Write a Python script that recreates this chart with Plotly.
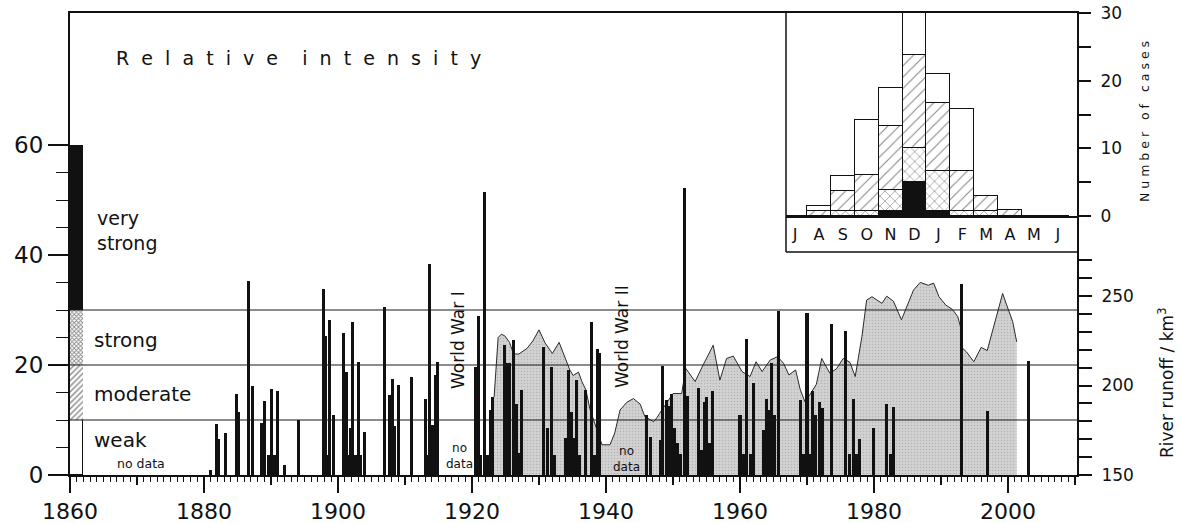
import plotly.graph_objects as go

W, H = 1181, 523

# ---------------- storm surge events: date (fractional year) and relative intensity
event_year = [
    1881.0, 1881.8, 1882.2, 1883.2, 1884.8, 1885.2, 1886.7, 1887.2, 1888.6, 1889.1,
    1889.6, 1890.1, 1890.5, 1890.9, 1892.0, 1894.1, 1897.8, 1898.2, 1898.5, 1898.8,
    1899.3, 1900.8, 1901.2, 1901.5, 1901.8, 1902.2, 1902.6, 1903.0, 1903.4, 1903.9,
    1907.0, 1907.7, 1908.1, 1908.5, 1909.0, 1911.0, 1913.0, 1913.4, 1913.7, 1914.1,
    1914.5, 1914.9, 1920.5, 1920.9, 1921.3, 1921.8, 1922.3, 1922.8, 1923.1, 1924.8,
    1925.2, 1925.6, 1926.2, 1926.6, 1927.0, 1927.4, 1930.7, 1931.2, 1931.9, 1932.3,
    1933.9, 1934.4, 1934.8, 1935.2, 1935.6, 1936.0, 1936.9, 1937.9, 1938.3, 1938.7,
    1939.1, 1946.1, 1946.6, 1948.1, 1948.5, 1949.0, 1949.4, 1949.8, 1950.2, 1950.6,
    1951.1, 1951.7, 1952.1, 1953.8, 1954.2, 1954.7, 1955.0, 1955.4, 1955.9, 1960.0,
    1960.5, 1961.0, 1961.5, 1962.0, 1963.5, 1963.9, 1964.3, 1964.7, 1965.1, 1965.7,
    1969.0, 1969.5, 1970.0, 1970.4, 1970.8, 1971.3, 1971.9, 1972.3, 1973.7, 1975.8,
    1976.3, 1976.9, 1977.4, 1977.9, 1979.9, 1981.9, 1982.4, 1982.9, 1993.0, 1997.0,
    2003.1,
]
event_intensity = [
    1.0, 9.2, 6.5, 7.7, 14.8, 11.5, 35.2, 16.1, 9.4, 13.5,
    3.6, 15.6, 3.6, 15.3, 1.8, 10.0, 33.8, 25.2, 3.6, 28.2,
    10.9, 25.8, 18.8, 3.6, 8.5, 27.9, 3.6, 20.6, 3.6, 7.8,
    30.5, 14.5, 17.5, 8.9, 16.4, 17.8, 13.8, 3.6, 38.3, 9.1,
    18.2, 20.5, 19.7, 28.9, 3.6, 51.5, 3.6, 11.8, 14.2, 23.6,
    20.4, 20.4, 24.5, 13.0, 4.0, 15.5, 23.2, 8.5, 19.6, 3.6,
    6.7, 19.1, 11.5, 6.7, 17.3, 3.6, 15.5, 27.9, 3.6, 23.0,
    22.1, 11.0, 7.0, 6.4, 19.9, 13.6, 12.5, 14.8, 8.5, 5.8,
    3.8, 52.1, 14.4, 15.8, 4.5, 13.2, 14.2, 5.8, 15.2, 11.0,
    3.9, 24.7, 3.9, 16.8, 8.1, 13.9, 11.8, 20.3, 10.9, 29.8,
    13.6, 3.9, 29.5, 3.9, 15.3, 10.9, 13.3, 12.2, 27.5, 26.1,
    3.9, 13.8, 3.9, 6.5, 8.5, 13.0, 3.9, 12.4, 34.7, 11.6,
    20.8,
]

# ---------------- river runoff (km^3)
runoff_year = [
    1923.3, 1923.9, 1924.4, 1924.9, 1925.6, 1926.2, 1927.0, 1928.2, 1929.1, 1930.0,
    1930.9, 1932.0, 1933.0, 1934.1, 1934.6, 1935.1, 1935.9, 1936.4, 1937.0, 1937.6,
    1938.4, 1939.4, 1940.6, 1941.3, 1942.1, 1943.1, 1944.1, 1945.1, 1945.8, 1947.1,
    1947.6, 1948.0, 1950.0, 1951.3, 1951.9, 1952.4, 1953.3, 1954.5, 1956.0, 1957.0,
    1958.0, 1959.0, 1960.3, 1961.5, 1962.4, 1963.3, 1964.5, 1965.6, 1966.5, 1967.3,
    1968.3, 1969.0, 1969.7, 1970.4, 1971.4, 1972.2, 1973.4, 1974.4, 1975.4, 1976.4,
    1977.2, 1978.2, 1978.9, 1979.7, 1980.4, 1981.2, 1981.9, 1982.9, 1984.1, 1985.9,
    1986.9, 1988.1, 1988.9, 1989.7, 1990.7, 1991.7, 1992.5, 1992.9, 1993.0, 1993.8,
    1994.9, 1996.0, 1996.9, 1998.1, 1999.2, 1999.8, 2000.7, 2001.3,
]
runoff_km3 = [
    193.6, 226.8, 228.7, 227.7, 224.1, 217.6, 217.6, 220.7, 225.0, 231.1,
    223.8, 217.9, 224.1, 213.3, 208.7, 205.6, 207.5, 202.2, 197.6, 186.9,
    177.7, 166.9, 166.9, 173.4, 186.3, 190.6, 192.7, 189.6, 182.6, 179.8,
    182.0, 184.4, 195.5, 195.5, 209.6, 206.9, 202.2, 211.5, 222.5, 203.0,
    215.1, 216.4, 207.8, 205.0, 213.3, 207.8, 214.2, 216.1, 212.4, 205.9,
    208.7, 197.6, 190.9, 194.6, 200.7, 215.1, 206.9, 209.3, 215.1, 213.0,
    205.0, 227.4, 247.7, 249.6, 247.7, 245.9, 249.9, 247.1, 236.7, 253.3,
    257.6, 256.0, 257.2, 249.6, 245.0, 242.5, 238.5, 233.0, 221.6, 218.8,
    213.3, 221.3, 219.5, 235.7, 251.4, 245.0, 235.7, 224.4,
]

# ---------------- intensity classes (key column at 1860)
class_names = ["weak", "moderate", "strong", "very strong"]
class_spans = [10, 10, 10, 30]
class_bounds = [10, 20, 30]

# ---------------- monthly distribution of events (inset)
month_labels = ["J", "A", "S", "O", "N", "D", "J", "F", "M", "A", "M", "J"]
cases_very_strong = [0, 0, 0, 0, 0.75, 5, 0.75, 0, 0, 0, 0, 0]
cases_strong = [0, 0, 0.75, 0.75, 3.05, 5, 5.9, 0.75, 0.75, 0, 0, 0]
cases_moderate = [0, 0.75, 2.95, 5.25, 9.5, 13.8, 10.1, 5.95, 2.15, 0.9, 0, 0]
cases_weak = [0, 0.75, 2.2, 8.2, 5.6, 8.2, 4.2, 9.1, 0, 0, 0, 0]

# axis ticks
runoff_labelled = [150, 200, 250]
runoff_minor = [160, 170, 180, 190, 210, 220, 230, 240, 260, 270]
case_labelled = [0, 10, 20, 30]
case_minor = [5, 15, 25]

INK = "#111111"
FONT = "DejaVu Sans"


def px_x(p):
    return p / W


def px_y(p):
    return (H - p) / H


def spaced(text, gap, word_gap):
    words = text.split(" ")
    return ("\u00a0" * word_gap).join(("\u00a0" * gap).join(w) for w in words)


fig = go.Figure()

# runoff area (base subplot, drawn beneath the bars)
fig.add_trace(go.Scatter(
    x=runoff_year, y=runoff_km3, xaxis="x", yaxis="y",
    mode="lines", line=dict(color="#2a2a2a", width=1),
    fill="tozeroy", fillcolor="#cccccc",
    fillpattern=dict(shape=".", fgcolor="#939393", bgcolor="#d2d2d2",
                     size=3, solidity=0.22),
    hoverinfo="skip",
))

# helper trace for the decade tick axis
fig.add_trace(go.Scatter(x=[1860], y=[150], xaxis="x2", yaxis="y",
                         mode="markers", marker=dict(size=1, opacity=0),
                         hoverinfo="skip"))

# key column: weak / moderate / strong / very strong
key_styles = [
    dict(color="white", line=dict(color=INK, width=1)),
    dict(color="white", line=dict(width=0),
         pattern=dict(shape="/", fgcolor=INK, bgcolor="white", size=4, solidity=0.35)),
    dict(color="white", line=dict(width=0),
         pattern=dict(shape="x", fgcolor=INK, bgcolor="white", size=3, solidity=0.5)),
    dict(color=INK, line=dict(width=0)),
]
for name, span, style in zip(class_names, class_spans, key_styles):
    fig.add_trace(go.Bar(x=[1860.97], y=[span], width=[1.94], name=name,
                         xaxis="x", yaxis="y2", marker=style, hoverinfo="skip"))

# storm surge events
fig.add_trace(go.Bar(
    x=event_year, y=event_intensity, width=0.45, xaxis="x", yaxis="y2",
    marker=dict(color=INK, line=dict(width=0)), hoverinfo="skip",
))

# inset: monthly counts, stacked by class
month_pos = list(range(len(month_labels)))
inset_series = [
    (cases_very_strong, dict(color=INK, line=dict(color=INK, width=1.2))),
    (cases_strong, dict(color="white", line=dict(color=INK, width=1.2),
                        pattern=dict(shape="x", fgcolor=INK, bgcolor="white",
                                     size=7, solidity=0.18))),
    (cases_moderate, dict(color="white", line=dict(color=INK, width=1.2),
                          pattern=dict(shape="/", fgcolor=INK, bgcolor="white",
                                       size=8, solidity=0.14))),
    (cases_weak, dict(color="white", line=dict(color=INK, width=1.2))),
]
for vals, style in inset_series:
    fig.add_trace(go.Bar(x=month_pos, y=vals, width=1, xaxis="x3", yaxis="y3",
                         marker=style, hoverinfo="skip"))

# class boundary lines across the main panel
shapes = [
    dict(type="line", xref="x domain", yref="y2", x0=0, x1=1, y0=b, y1=b,
         line=dict(color="#1a1a1a", width=1.2), layer="above")
    for b in class_bounds
]
# inset frame (left and bottom edges)
shapes += [
    dict(type="line", xref="paper", yref="paper", x0=px_x(786), x1=px_x(786),
         y0=px_y(13), y1=px_y(252), line=dict(color=INK, width=1.5)),
    dict(type="line", xref="paper", yref="paper", x0=px_x(786), x1=px_x(1077),
         y0=px_y(252), y1=px_y(252), line=dict(color=INK, width=1.5)),
]

tf = dict(family=FONT, color=INK)
annotations = [
    dict(text=spaced("Relative intensity", 2, 4), x=px_x(114), y=px_y(58),
         xanchor="left", font=dict(size=19, **tf)),
    dict(text="very<br>strong", x=px_x(95), y=px_y(231), xanchor="left",
         align="left", font=dict(size=19, **tf)),
    dict(text="strong", x=px_x(92), y=px_y(340), xanchor="left", font=dict(size=20, **tf)),
    dict(text="moderate", x=px_x(92), y=px_y(394), xanchor="left", font=dict(size=20, **tf)),
    dict(text="weak", x=px_x(92), y=px_y(440), xanchor="left", font=dict(size=20, **tf)),
    dict(text="no data", x=px_x(141), y=px_y(463), font=dict(size=12.5, **tf)),
    dict(text="no<br>data", x=px_x(459), y=px_y(456), font=dict(size=12, **tf)),
    dict(text="no<br>data", x=px_x(626), y=px_y(459), font=dict(size=12, **tf)),
    dict(text="World War I", x=px_x(458), y=px_y(340), textangle=-90,
         font=dict(size=17, **tf)),
    dict(text="World War II", x=px_x(622), y=px_y(337), textangle=-90,
         font=dict(size=17, **tf)),
    dict(text=spaced("Number of cases", 1, 3), x=px_x(1144), y=px_y(122),
         textangle=-90, font=dict(size=12.5, **tf)),
    dict(text="River runoff / km<sup>3</sup>", x=px_x(1166), y=px_y(383),
         textangle=-90, font=dict(size=17, **tf)),
]
for a in annotations:
    a.setdefault("xref", "paper")
    a.setdefault("yref", "paper")
    a.setdefault("xanchor", "center")
    a.setdefault("yanchor", "middle")
    a.setdefault("showarrow", False)

fig.update_layout(
    width=W, height=H, margin=dict(l=0, r=0, t=0, b=0, autoexpand=False),
    paper_bgcolor="white", plot_bgcolor="white",
    font=dict(family=FONT, color=INK, size=16),
    showlegend=False, barmode="stack", bargap=0,
    xaxis=dict(
        domain=[px_x(70), px_x(1077)], range=[1860, 2010.3], anchor="y",
        automargin=False,
        tickmode="linear", tick0=1860, dtick=20,
        ticks="outside", ticklen=16, tickwidth=2, tickcolor=INK,
        tickfont=dict(size=22, family=FONT, color=INK),
        showline=True, linewidth=2, linecolor=INK, mirror=True,
        showgrid=False, zeroline=False,
        minor=dict(dtick=1, tick0=1860, ticks="outside", ticklen=5,
                   tickwidth=1, tickcolor=INK, showgrid=False),
    ),
    xaxis2=dict(
        overlaying="x", anchor="y", range=[1860, 2010.3], automargin=False,
        tickmode="linear", tick0=1870, dtick=20,
        ticks="outside", ticklen=9, tickwidth=1.5, tickcolor=INK,
        showticklabels=False, showline=False, showgrid=False, zeroline=False,
    ),
    yaxis=dict(
        domain=[px_y(475), px_y(13)], range=[150, 150 + 462 / 1.79],
        side="right", anchor="x", automargin=False,
        tickmode="array", tickvals=runoff_labelled,
        ticks="outside", ticklen=13, tickwidth=1.5, tickcolor=INK,
        ticklabelstandoff=6,
        tickfont=dict(size=17, family=FONT, color=INK),
        minor=dict(tickmode="array", tickvals=runoff_minor, ticks="outside",
                   ticklen=13, tickwidth=1.5, tickcolor=INK, showgrid=False),
        showline=True, linewidth=2, linecolor=INK,
        showgrid=False, zeroline=False,
    ),
    yaxis2=dict(
        overlaying="y", side="left", anchor="x", range=[0, 84], automargin=False,
        tickmode="array", tickvals=[0, 20, 40, 60],
        ticks="outside", ticklen=20, tickwidth=1.5, tickcolor=INK,
        tickfont=dict(size=23, family=FONT, color=INK),
        minor=dict(tickmode="array", tickvals=[5, 10, 15, 25, 30, 35, 45, 50, 55],
                   ticks="outside", ticklen=12, tickwidth=1, tickcolor=INK,
                   showgrid=False),
        showline=True, linewidth=2, linecolor=INK,
        showgrid=False, zeroline=False,
    ),
    xaxis3=dict(
        domain=[px_x(786), px_x(1077)], anchor="y3", range=[-0.377, 11.8],
        automargin=False,
        tickmode="array", tickvals=month_pos, ticktext=month_labels,
        ticks="", ticklabelstandoff=3,
        tickfont=dict(size=16, family=FONT, color=INK),
        showline=True, linewidth=1.5, linecolor=INK,
        showgrid=False, zeroline=False,
    ),
    yaxis3=dict(
        domain=[px_y(216), px_y(13)], anchor="x3", side="right", range=[0, 30],
        automargin=False,
        tickmode="array", tickvals=case_labelled,
        ticks="outside", ticklen=13, tickwidth=1.5, tickcolor=INK,
        ticklabelstandoff=6,
        tickfont=dict(size=17, family=FONT, color=INK),
        minor=dict(tickmode="array", tickvals=case_minor, ticks="outside",
                   ticklen=13, tickwidth=1.5, tickcolor=INK, showgrid=False),
        showline=False, showgrid=False, zeroline=False,
    ),
    shapes=shapes,
    annotations=annotations,
)

fig.write_html("out.html")
